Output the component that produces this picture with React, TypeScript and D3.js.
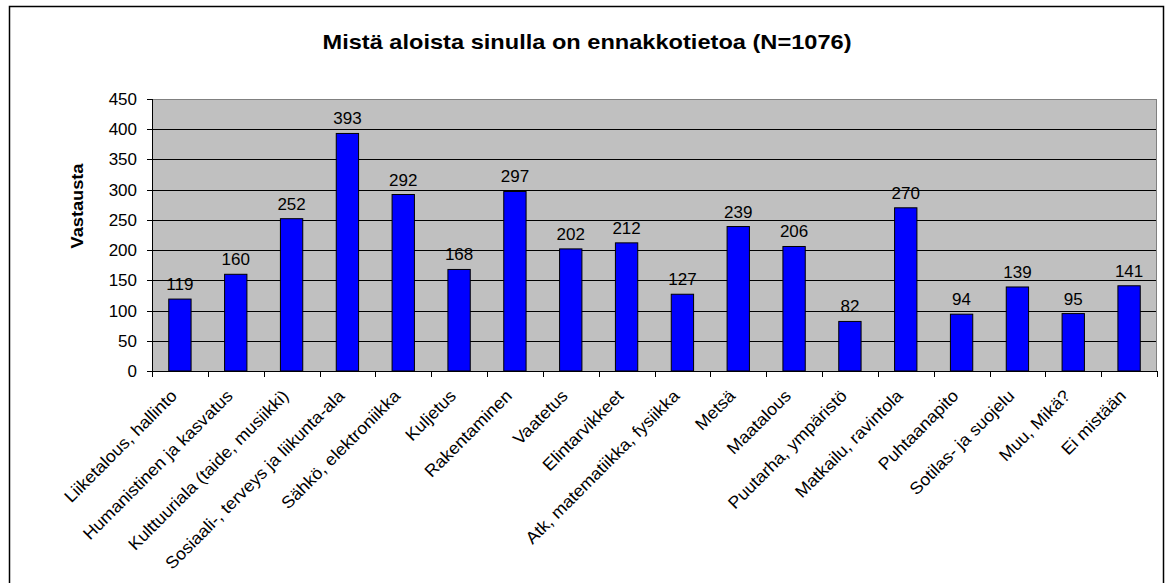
import { useEffect, useRef } from 'react';
import * as d3 from 'd3';

const categories = [
  'Liiketalous, hallinto',
  'Humanistinen ja kasvatus',
  'Kulttuuriala (taide, musiikki)',
  'Sosiaali-, terveys ja liikunta-ala',
  'Sähkö, elektroniikka',
  'Kuljetus',
  'Rakentaminen',
  'Vaatetus',
  'Elintarvikkeet',
  'Atk, matematiikka, fysiikka',
  'Metsä',
  'Maatalous',
  'Puutarha, ympäristö',
  'Matkailu, ravintola',
  'Puhtaanapito',
  'Sotilas- ja suojelu',
  'Muu, Mikä?',
  'Ei mistään',
];
const answers = [119, 160, 252, 393, 292, 168, 297, 202, 212, 127, 239, 206, 82, 270, 94, 139, 95, 141];
const yTicks = [0, 50, 100, 150, 200, 250, 300, 350, 400, 450];

const title = 'Mistä aloista sinulla on ennakkotietoa (N=1076)';
const yLabel = 'Vastausta';

const FONT = 'Arial, "Liberation Sans", sans-serif';

export default function App() {
  const svgRef = useRef<SVGSVGElement>(null);

  useEffect(() => {
    document.body.style.margin = '0';
    if (!svgRef.current) return;

    const svg = d3.select(svgRef.current);
    svg.selectAll('*').remove();

    const width = 1169;
    const height = 583;
    const left = 152;
    const right = 1157;
    const top = 99;
    const bottom = 371;

    // outer chart frame
    svg.append('rect')
      .attr('x', 9.5).attr('y', 6.5)
      .attr('width', 1154).attr('height', 600)
      .attr('fill', '#fff').attr('stroke', '#000').attr('stroke-width', 1.5);

    const x = d3.scaleBand<string>().domain(categories).range([left, right]).paddingInner(0.6).paddingOuter(0.3);
    const xEdge = d3.scaleLinear().domain([0, categories.length]).range([left, right]);
    const y = d3.scaleLinear().domain([0, 450]).range([bottom, top]);

    // plot background
    svg.append('rect')
      .attr('x', left).attr('y', top)
      .attr('width', right - left).attr('height', bottom - top)
      .attr('fill', '#c0c0c0');

    // gridlines
    svg.append('g')
      .selectAll('line')
      .data(yTicks.filter(t => t > 0 && t < 450))
      .join('line')
      .attr('x1', left).attr('x2', right)
      .attr('y1', d => Math.round(y(d)) + 0.5).attr('y2', d => Math.round(y(d)) + 0.5)
      .attr('stroke', '#000').attr('stroke-width', 1);

    // plot border
    svg.append('rect')
      .attr('x', left + 0.5).attr('y', top + 0.5)
      .attr('width', right - left - 1).attr('height', bottom - top)
      .attr('fill', 'none').attr('stroke', '#808080').attr('stroke-width', 1);

    // bars
    svg.append('g')
      .selectAll('rect')
      .data(answers)
      .join('rect')
      .attr('x', (_, i) => x(categories[i])!)
      .attr('y', d => y(d))
      .attr('width', x.bandwidth())
      .attr('height', d => bottom - y(d))
      .attr('fill', '#0000ff')
      .attr('stroke', '#000')
      .attr('stroke-width', 1);

    // value labels
    svg.append('g')
      .selectAll('text')
      .data(answers)
      .join('text')
      .attr('x', (_, i) => x(categories[i])! + x.bandwidth() / 2)
      .attr('y', d => y(d) - 9)
      .attr('text-anchor', 'middle')
      .attr('font-family', FONT)
      .attr('font-size', '17px')
      .attr('fill', '#000')
      .text(d => d);

    // axes lines
    svg.append('line')
      .attr('x1', left + 0.5).attr('x2', left + 0.5)
      .attr('y1', top).attr('y2', bottom)
      .attr('stroke', '#000');
    svg.append('line')
      .attr('x1', left).attr('x2', right)
      .attr('y1', bottom + 0.5).attr('y2', bottom + 0.5)
      .attr('stroke', '#000');

    // y ticks
    const yg = svg.append('g');
    yg.selectAll('line')
      .data(yTicks)
      .join('line')
      .attr('x1', left - 5).attr('x2', left)
      .attr('y1', d => Math.round(y(d)) + 0.5).attr('y2', d => Math.round(y(d)) + 0.5)
      .attr('stroke', '#000');
    yg.selectAll('text')
      .data(yTicks)
      .join('text')
      .attr('x', left - 15)
      .attr('y', d => y(d))
      .attr('dy', '0.35em')
      .attr('text-anchor', 'end')
      .attr('font-family', FONT)
      .attr('font-size', '17px')
      .text(d => d);

    // x ticks
    svg.append('g')
      .selectAll('line')
      .data(d3.range(categories.length + 1))
      .join('line')
      .attr('x1', d => Math.round(xEdge(d)) + 0.5).attr('x2', d => Math.round(xEdge(d)) + 0.5)
      .attr('y1', bottom).attr('y2', bottom + 6)
      .attr('stroke', '#000');

    // category labels
    svg.append('g')
      .selectAll('text')
      .data(categories)
      .join('text')
      .attr('transform', d => `translate(${x(d)! + x.bandwidth() / 2 - 2},${bottom + 26}) rotate(-45) scale(1.05,1)`)
      .attr('text-anchor', 'end')
      .attr('font-family', FONT)
      .attr('font-size', '17px')
      .text(d => d);

    // title
    svg.append('text')
      .attr('x', 587).attr('y', 49)
      .attr('text-anchor', 'middle')
      .attr('font-family', FONT)
      .attr('font-size', '21px')
      .attr('font-weight', 'bold')
      .attr('textLength', 529)
      .attr('lengthAdjust', 'spacingAndGlyphs')
      .text(title);

    // y label
    svg.append('text')
      .attr('transform', `translate(83,206) rotate(-90)`)
      .attr('text-anchor', 'middle')
      .attr('font-family', FONT)
      .attr('font-size', '16px')
      .attr('font-weight', 'bold')
      .attr('textLength', 85)
      .attr('lengthAdjust', 'spacingAndGlyphs')
      .text(yLabel);

    svg.attr('width', width).attr('height', height);
  }, []);

  return <svg ref={svgRef} width={1169} height={583} style={{ display: 'block' }} />;
}
